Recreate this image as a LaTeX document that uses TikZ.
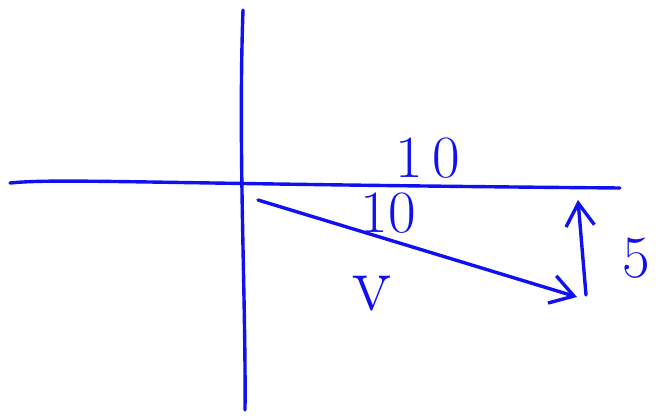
\documentclass[tikz,border=0pt]{standalone}
\usepackage{xcolor}
\usepackage{tikz}
\usetikzlibrary{arrows.meta}
\definecolor{penblue}{HTML}{1010F0}

\begin{document}
\begin{tikzpicture}[x=0.5pt,y=-0.5pt,
  pen/.style={draw=penblue,line width=1.7pt,line cap=round,line join=round},
  arrow/.style={pen,-{Straight Barb[length=4mm,width=5mm]}},
  note/.style={text=penblue,inner sep=0pt,font=\fontsize{30}{30}\selectfont}
]
\useasboundingbox (0,0) rectangle (670,417);
% axes
\coordinate (xl) at (10,183);
\coordinate (xr) at (620,188);
\coordinate (yt) at (243,10);
\coordinate (yb) at (245,410);
\draw[pen] (xl) .. controls (60,178) and (150,184) .. (xr);
\draw[pen] (yt) .. controls (238,150) and (246,300) .. (yb);
% vector v and its vertical part
\coordinate (vs) at (258,200);
\coordinate (vt) at (577,297);
\coordinate (ub) at (586,295);
\coordinate (ut) at (578,200);
\draw[arrow] (vs) -- (vt);
\draw[arrow] (ub) -- (ut);
% labels
\node[note] (lbltop) at (428,158) {1\,0};
\node[note] (lblangle) at (388,213) {10};
\node[note,font=\fontsize{40}{40}\selectfont] (lblv) at (372,294) {v};
\node[note] (lblfive) at (636,258) {5};
\end{tikzpicture}
\end{document}
